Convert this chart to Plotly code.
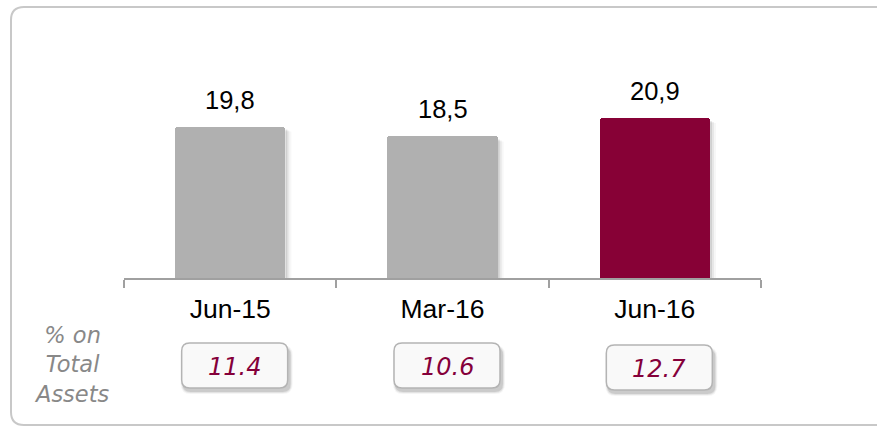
import plotly.graph_objects as go

# ---- data ----
categories = ["Jun-15", "Mar-16", "Jun-16"]
values = [19.8, 18.5, 20.9]
value_labels = ["19,8", "18,5", "20,9"]
pct_total_assets = ["11.4", "10.6", "12.7"]
side_label = "% on<br>Total<br>Assets"

# ---- style ----
GREY = "#b0b0b0"
MAROON = "#870136"
bar_colors = [GREY, GREY, MAROON]
FW, FH = 877, 427
L, R, T, B = 124, 761, 48, 278          # plot area in pixels
W, H = R - L, B - T
YMAX = H / 7.65
BAR_W = 0.52

def xp(px):
    return (px - L) / W

def yp(py):
    return (B - py) / H

def rrect(x0, y0, x1, y1, r):
    """rounded rectangle path in paper coords from pixel box"""
    pts = [
        f"M {xp(x0 + r)},{yp(y0)}",
        f"L {xp(x1 - r)},{yp(y0)}",
        f"Q {xp(x1)},{yp(y0)} {xp(x1)},{yp(y0 + r)}",
        f"L {xp(x1)},{yp(y1 - r)}",
        f"Q {xp(x1)},{yp(y1)} {xp(x1 - r)},{yp(y1)}",
        f"L {xp(x0 + r)},{yp(y1)}",
        f"Q {xp(x0)},{yp(y1)} {xp(x0)},{yp(y1 - r)}",
        f"L {xp(x0)},{yp(y0 + r)}",
        f"Q {xp(x0)},{yp(y0)} {xp(x0 + r)},{yp(y0)}",
        "Z",
    ]
    return " ".join(pts)

def cat_px(i):
    return L + (i + 0.5) * W / len(categories)

def val_py(v):
    return B - v * H / YMAX

fig = go.Figure()
fig.add_trace(go.Bar(
    x=categories, y=values, width=BAR_W,
    marker=dict(color=bar_colors, line=dict(width=0), cornerradius=3),
    hoverinfo="skip", showlegend=False,
))

shapes = []
annotations = []

# outer frame
shapes.append(dict(type="path", xref="paper", yref="paper",
                   path=rrect(11, 7, 905, 425, 13),
                   line=dict(color="#c8c8c8", width=2), layer="below"))

# bar shadows and value labels
bw_px = BAR_W * W / len(categories)
for i, (c, v, lab) in enumerate(zip(categories, values, value_labels)):
    right = cat_px(i) + bw_px / 2
    top = val_py(v)
    for k, a in enumerate([0.10, 0.06, 0.03]):
        shapes.append(dict(type="rect", xref="paper", yref="paper",
                           x0=xp(right), x1=xp(right + 2 + 2 * k),
                           y0=yp(B), y1=yp(top + 3 + k),
                           line=dict(width=0), fillcolor=f"rgba(0,0,0,{a})",
                           layer="below"))
    annotations.append(dict(x=c, y=v, xref="x", yref="y", text=lab,
                            showarrow=False, yanchor="bottom", yshift=11,
                            font=dict(family="Liberation Sans, Arial", size=25.5, color="#000000")))

# % on total assets boxes
box_y_off = [0, 0, 2]
for i, (t, dy) in enumerate(zip(pct_total_assets, box_y_off)):
    cx = cat_px(i) + 4.5
    x0, x1 = cx - 53, cx + 53
    y0, y1 = 343 + dy, 388 + dy
    for k, a in enumerate([0.10, 0.07, 0.04]):
        shapes.append(dict(type="path", xref="paper", yref="paper",
                           path=rrect(x0 + 1 - k, y0 + 4 - k, x1 + 3 + k, y1 + 4 + k, 8 + k),
                           line=dict(width=0), fillcolor=f"rgba(0,0,0,{a})",
                           layer="above"))
    shapes.append(dict(type="path", xref="paper", yref="paper",
                       path=rrect(x0, y0, x1, y1, 8),
                       line=dict(color="#b4b4b4", width=1.5), fillcolor="#f9f9f9",
                       layer="above"))
    annotations.append(dict(x=xp(cx), y=yp((y0 + y1) / 2 + 1), xref="paper", yref="paper",
                            text=f"<i>{t}</i>", showarrow=False,
                            xanchor="center", yanchor="middle",
                            font=dict(family="DejaVu Sans, Verdana", size=24, color="#85003a")))

# side label
annotations.append(dict(x=xp(72), y=yp(364), xref="paper", yref="paper",
                        text=f"<i>{side_label}</i>", showarrow=False,
                        xanchor="center", yanchor="middle", align="center",
                        font=dict(family="DejaVu Sans, Verdana", size=22.5, color="#888888")))

fig.update_layout(
    width=FW, height=FH,
    margin=dict(l=L, r=FW - R, t=T, b=FH - B, pad=0),
    paper_bgcolor="white", plot_bgcolor="white",
    shapes=shapes, annotations=annotations,
    xaxis=dict(type="category", range=[-0.5, len(categories) - 0.5],
               showgrid=False, zeroline=False,
               showline=True, linecolor="#a0a0a0", linewidth=1.5,
               ticks="outside", tickson="boundaries", ticklen=8,
               tickcolor="#a0a0a0", tickwidth=1.5,
               ticklabelstandoff=6,
               tickfont=dict(family="Liberation Sans, Arial", size=26.5, color="#000000")),
    yaxis=dict(range=[0, YMAX], visible=False, showgrid=False, zeroline=False),
    bargap=0,
)

fig.write_html("out.html", config={"displayModeBar": False},
               post_script="document.body.style.margin='0px';document.body.style.overflow='hidden';")
